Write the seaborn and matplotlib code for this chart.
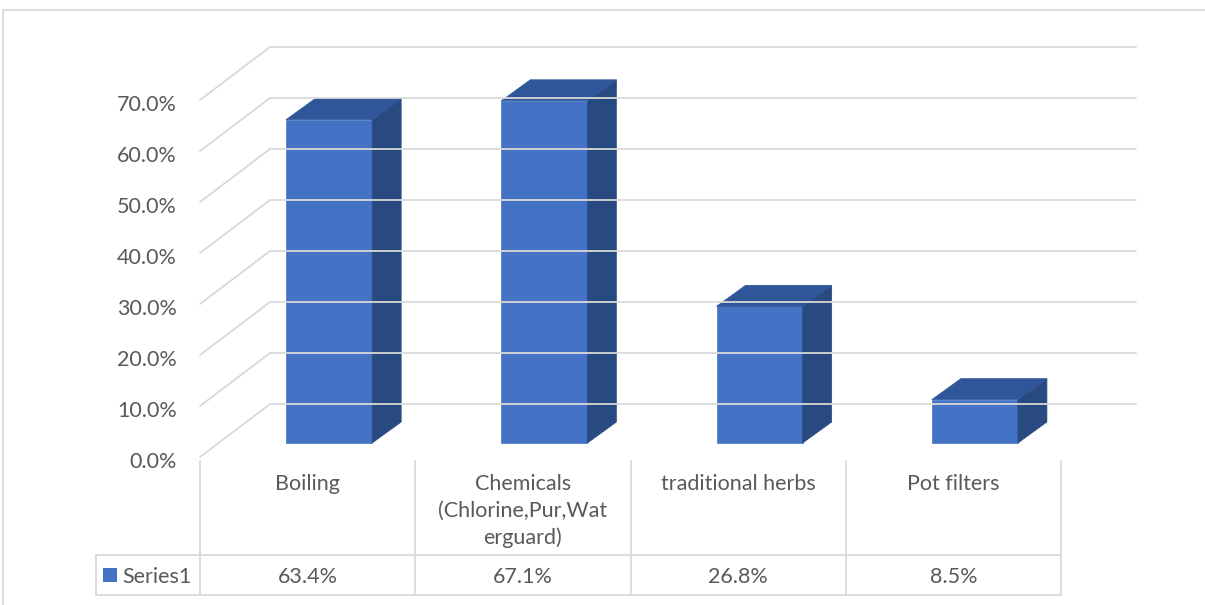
import numpy as np
import seaborn as sns
import matplotlib.pyplot as plt
from matplotlib import transforms
from matplotlib.patches import Polygon, Rectangle
from matplotlib.lines import Line2D

# data
categories = ["Boiling", "Chemicals\n(Chlorine,Pur,Wat\nerguard)", "traditional herbs", "Pot filters"]
values = [63.4, 67.1, 26.8, 8.5]
value_labels = ["63.4%", "67.1%", "26.8%", "8.5%"]
series_name = "Series1"
yticks = [0, 10, 20, 30, 40, 50, 60, 70]

sns.set_style("white")
plt.rcParams['font.family'] = ['Lato', 'DejaVu Sans']

FRONT = "#4472C4"
TOP = "#30569A"
SIDE = "#284A80"
GRID = "#D9D9D9"
TXT = "#595959"
FS = 15.5

W, H = 1205, 605
fig = plt.figure(figsize=(W / 100, H / 100), dpi=100)

# axes = front plane of the 3D box (x: categories, y: percent)
x0, x1 = 200, 1061
y0, y1 = 457, 100
ax = fig.add_axes([x0 / W, (H - y0) / H, (x1 - x0) / W, (y0 - y1) / H])
ax.set_xlim(-0.5, 3.5)
ax.set_ylim(0, 70)
ax.axis("off")

# depth of the box in pixels (display coords, y up)
depth = np.array([70, 53])
shift = np.array([21.5, 14])   # where the bar faces sit in the depth
d = np.array([29, 21])         # bar depth

def px(x, y):
    return ax.transData.transform((x, y))

# back wall gridlines + left wall diagonals
for t in yticks:
    p0 = px(-0.5, t)
    pb = p0 + depth
    pr = np.array([1136, pb[1]])
    fig.add_artist(Line2D([p0[0], pb[0], pr[0]], [p0[1], pb[1], pr[1]],
                          transform=None, color=GRID, lw=1.3))
    ax.text(-0.5, t, f"{t:.1f}%", transform=transforms.offset_copy(
        ax.transData, fig, x=-23, y=-5, units='dots'),
        ha="right", va="center", fontsize=FS, color=TXT)

# front faces through seaborn, then shifted into the depth
sns.barplot(x=np.arange(len(values)), y=values, ax=ax, color=FRONT,
            width=0.4, saturation=1, native_scale=True)
ax.set_xlim(-0.5, 3.5)
ax.set_ylim(0, 70)
off = transforms.offset_copy(ax.transData, fig, x=shift[0], y=shift[1], units='dots')
for patch in ax.patches:
    patch.set_transform(off)
    patch.set_edgecolor(FRONT)
    patch.set_linewidth(0.5)
    bx, bw, bh = patch.get_x(), patch.get_width(), patch.get_height()
    br = px(bx + bw, 0) + shift
    tl = px(bx, bh) + shift
    tr = px(bx + bw, bh) + shift
    side = Polygon([br, br + d, tr + d, tr], closed=True, transform=None,
                   facecolor=SIDE, edgecolor=SIDE, lw=0.5)
    top = Polygon([tl, tr, tr + d, tl + d], closed=True, transform=None,
                  facecolor=TOP, edgecolor=TOP, lw=0.5)
    fig.add_artist(side)
    fig.add_artist(top)

# data table below the plot
row1_top, row2_top, row2_bot = 461, 555, 595
cols = [px(i - 0.5, 0)[0] for i in range(len(values) + 1)]
def ly(y):
    return H - y
for c in cols:
    fig.add_artist(Line2D([c, c], [ly(row1_top), ly(row2_bot)], transform=None, color=GRID, lw=1.3))
fig.add_artist(Line2D([96, 96], [ly(row2_top), ly(row2_bot)], transform=None, color=GRID, lw=1.3))
for yy in (row2_top, row2_bot):
    fig.add_artist(Line2D([96, cols[-1]], [ly(yy), ly(yy)], transform=None, color=GRID, lw=1.3))

for i, (cat, lab) in enumerate(zip(categories, value_labels)):
    cx = (cols[i] + cols[i + 1]) / 2
    fig.text(cx / W, ly(474) / H, cat, ha="center", va="top", fontsize=FS,
             color=TXT, linespacing=1.42)
    fig.text(cx / W, ly(577) / H, lab, ha="center", va="center", fontsize=FS, color=TXT)

fig.add_artist(Rectangle((103, ly(582)), 14, 14, transform=None, facecolor=FRONT, edgecolor="none"))
fig.text(122 / W, ly(577) / H, series_name, ha="left", va="center", fontsize=FS, color=TXT)

# chart area border
fig.add_artist(Rectangle((3, -10), W + 10, ly(10) + 10, transform=None,
                         facecolor="none", edgecolor=GRID, lw=1.3))

fig.savefig("out.png", dpi=100)
